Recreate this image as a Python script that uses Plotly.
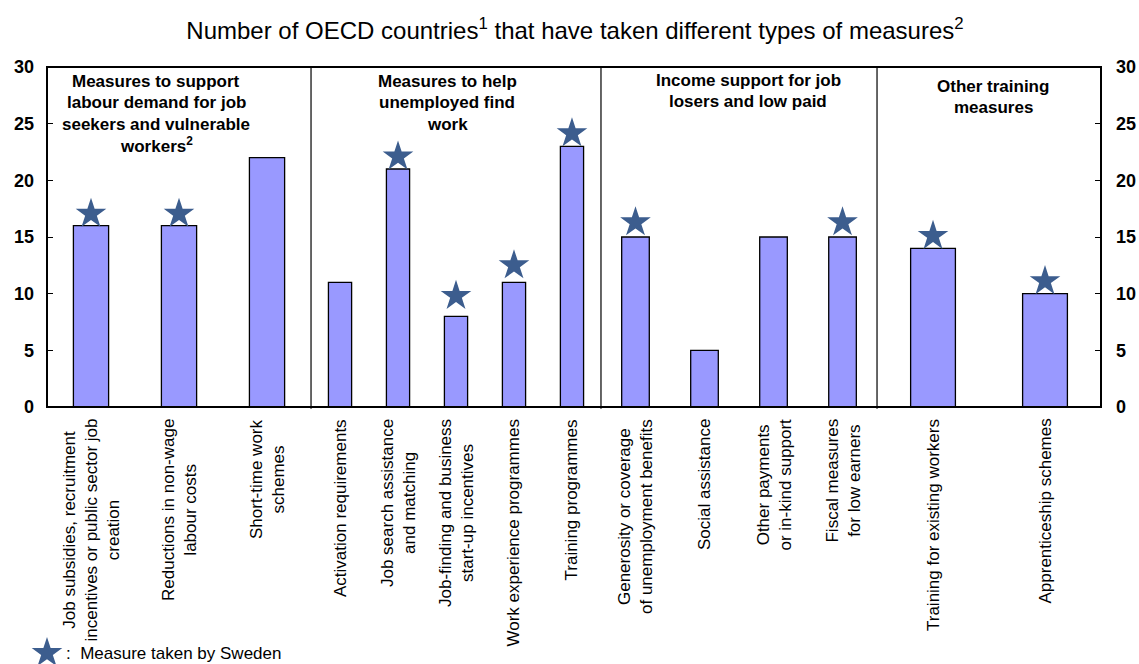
import plotly.graph_objects as go

# ---------------- data ----------------
group_titles = [
    ["Measures to support", "labour demand for job", "seekers and vulnerable", "workers<sup>2</sup>"],
    ["Measures to help", "unemployed find", "work"],
    ["Income support for job", "losers and low paid"],
    ["Other training", "measures"],
]
categories = [
    "Job subsidies, recruitment<br>incentives or public sector job<br>creation",
    "Reductions in non-wage<br>labour costs",
    "Short-time work<br>schemes",
    "Activation requirements",
    "Job search assistance<br>and matching",
    "Job-finding and business<br>start-up incentives",
    "Work experience programmes",
    "Training programmes",
    "Generosity or coverage<br>of unemployment benefits",
    "Social assistance",
    "Other payments<br>or in-kind support",
    "Fiscal measures<br>for low earners",
    "Training for existing workers",
    "Apprenticeship schemes",
]
category_group = [0, 0, 0, 1, 1, 1, 1, 1, 2, 2, 2, 2, 3, 3]
oecd_countries = [16, 16, 22, 11, 21, 8, 11, 23, 15, 5, 15, 15, 14, 10]
sweden_star = [17.05, 17.05, None, None, 22.1, 9.8, 12.5, 24.15, 16.3, None, None, 16.3, 15.1, 11.1]
y_ticks = [0, 5, 10, 15, 20, 25, 30]
title_text = "Number of OECD countries<sup>1</sup> that have taken different types of measures<sup>2</sup>"
legend_text = ":  Measure taken by Sweden"

# ---------------- style / layout ----------------
W, H = 1139, 664
ML, MR, MT, MB = 47, 38, 67, 5
PLOT_H = H - MT - MB
AXIS_BOTTOM_PX = 407
BAR_COLOR = "#9999FF"
STAR_COLOR = "#3C5D8E"
FONT = "Liberation Sans, Arial, sans-serif"
group_bounds = [0.0, 0.2505, 0.5256, 0.7875, 1.0]
group_label_x_px = [156, 447, 748, 993]
group_label_first_y_px = [81, 81, 80.5, 86]
LINE_STEP = 21.5


def py2paper(py):
    return (H - MB - py) / PLOT_H


def px2paper(px):
    return (px - ML) / (W - ML - MR)


ydom0 = py2paper(AXIS_BOTTOM_PX)

fig = go.Figure()
annotations = []

for g in range(4):
    xa = "x" if g == 0 else f"x{g+1}"
    cats = [c for c, gg in zip(categories, category_group) if gg == g]
    vals = [v for v, gg in zip(oecd_countries, category_group) if gg == g]
    stars = [s for s, gg in zip(sweden_star, category_group) if gg == g]
    fig.add_trace(go.Bar(
        x=cats, y=vals, xaxis=xa, yaxis="y", width=0.4,
        marker=dict(color=BAR_COLOR, line=dict(color="black", width=1.3)),
        showlegend=False, hoverinfo="x+y",
    ))
    sx = [c for c, s in zip(cats, stars) if s is not None]
    sy = [s for s in stars if s is not None]
    fig.add_trace(go.Scatter(
        x=sx, y=sy, xaxis=xa, yaxis="y", mode="markers",
        marker=dict(symbol="star", size=23, color=STAR_COLOR, line=dict(width=0)),
        showlegend=False, cliponaxis=False,
    ))
    for c in cats:
        annotations.append(dict(
            x=c, xref=xa, y=ydom0, yref="paper", yshift=-10,
            xanchor="center", yanchor="top", textangle=-90, align="center",
            text=c, showarrow=False,
            font=dict(family=FONT, size=17, color="black"),
        ))
    for i, line in enumerate(group_titles[g]):
        annotations.append(dict(
            x=px2paper(group_label_x_px[g]), xref="paper",
            y=py2paper(group_label_first_y_px[g] + i * LINE_STEP), yref="paper",
            xanchor="center", yanchor="middle", text=line, showarrow=False,
            font=dict(family=FONT, size=17, color="black", weight="bold"),
        ))

# legend star (manual)
fig.add_trace(go.Scatter(
    x=[0], y=[0.5], xaxis="x5", yaxis="y3", mode="markers",
    marker=dict(symbol="star", size=23, color=STAR_COLOR, line=dict(width=0)),
    showlegend=False, cliponaxis=False, hoverinfo="skip",
))
annotations.append(dict(
    x=px2paper(64), xref="paper", y=py2paper(653), yref="paper",
    xanchor="left", yanchor="middle", text=legend_text, showarrow=False,
    font=dict(family=FONT, size=17, color="black"),
))

tickfont = dict(family=FONT, size=18, color="black", weight="bold")
layout = dict(
    width=W, height=H,
    margin=dict(l=ML, r=MR, t=MT, b=MB, autoexpand=False),
    plot_bgcolor="white", paper_bgcolor="white",
    title=dict(text=title_text, x=575 / W, xref="container", xanchor="center",
               y=1 - 31 / H, yref="container", yanchor="middle",
               font=dict(family=FONT, size=24, color="black")),
    yaxis=dict(domain=[ydom0, 1], range=[0, 30], anchor="x", tickvals=y_ticks,
               ticks="inside", ticklen=6, tickwidth=1.3, tickcolor="black",
               showgrid=False, zeroline=False, showline=False, automargin=False,
               ticklabelstandoff=12, tickfont=tickfont),
    yaxis2=dict(overlaying="y", side="right", anchor="free", position=1,
                range=[0, 30], tickvals=y_ticks,
                ticks="inside", ticklen=6, tickwidth=1.3, tickcolor="black",
                showgrid=False, zeroline=False, showline=False, automargin=False,
                ticklabelstandoff=14, tickfont=tickfont),
    xaxis5=dict(domain=[0, 0.01], range=[0, 1], anchor="y3", visible=False, automargin=False),
    yaxis3=dict(domain=[0, 2 * py2paper(653)], range=[0, 1], anchor="x5", visible=False,
                automargin=False),
    annotations=annotations,
    hovermode="closest",
)
for g in range(4):
    key = "xaxis" if g == 0 else f"xaxis{g+1}"
    n = category_group.count(g)
    layout[key] = dict(domain=[group_bounds[g], group_bounds[g + 1]], anchor="y",
                       range=[-0.5, n - 0.5], showticklabels=False, ticks="",
                       showgrid=False, zeroline=False, showline=False,
                       automargin=False, fixedrange=True)

shapes = [dict(type="rect", xref="paper", yref="paper", x0=0, x1=1, y0=ydom0, y1=1,
               line=dict(color="black", width=2), layer="above")]
for b in group_bounds[1:-1]:
    shapes.append(dict(type="line", xref="paper", yref="paper", x0=b, x1=b,
                       y0=ydom0 - 0.003, y1=1, line=dict(color="black", width=1.2),
                       layer="above"))
layout["shapes"] = shapes

fig.update_layout(**layout)
# ensure the right axis is drawn
fig.add_trace(go.Scatter(x=[None], y=[None], xaxis="x4", yaxis="y2",
                         showlegend=False, hoverinfo="skip"))
fig.write_html(
    "out.html",
    config={"displayModeBar": False},
    post_script="document.body.style.margin='0';document.body.style.overflow='hidden';",
)
